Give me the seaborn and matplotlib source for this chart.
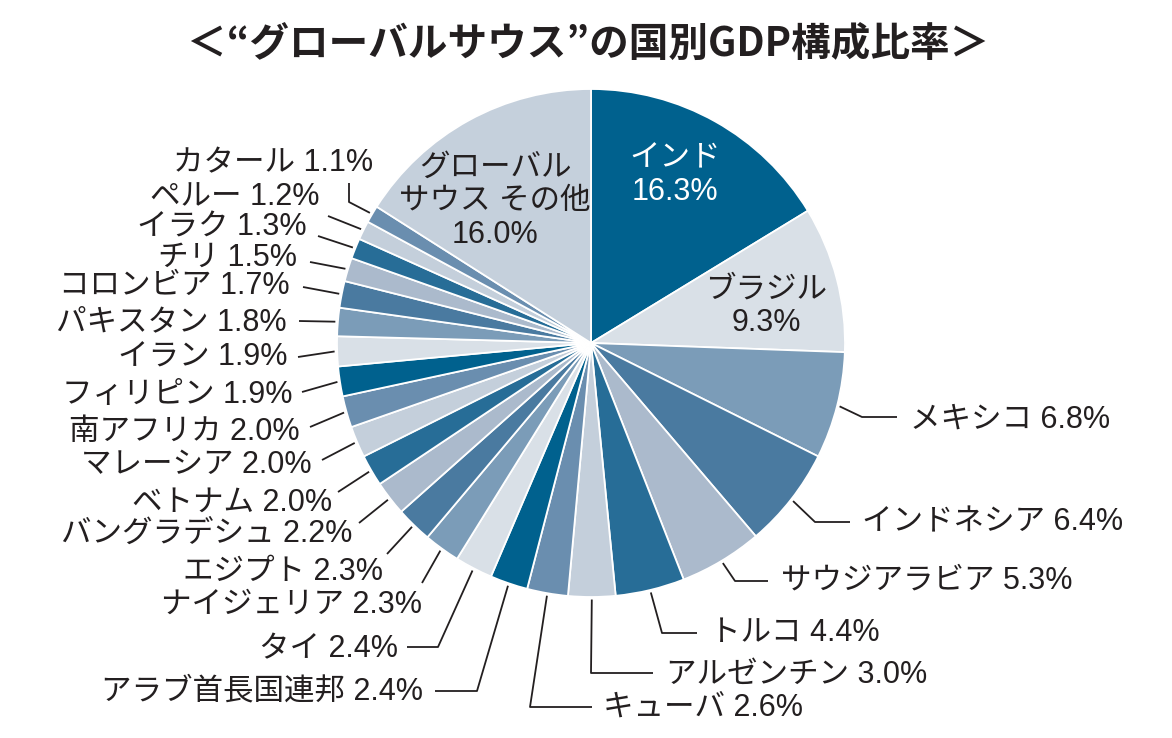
import matplotlib
matplotlib.use("Agg")
import matplotlib.pyplot as plt
import seaborn as sns
import numpy as np

# ---------------- data ----------------
countries = ["インド", "ブラジル", "メキシコ", "インドネシア", "サウジアラビア", "トルコ",
             "アルゼンチン", "キューバ", "アラブ首長国連邦", "タイ", "ナイジェリア", "エジプト",
             "バングラデシュ", "ベトナム", "マレーシア", "南アフリカ", "フィリピン", "イラン",
             "パキスタン", "コロンビア", "チリ", "イラク", "ペルー", "カタール",
             "グローバル\nサウス その他"]
shares = [16.3, 9.3, 6.8, 6.4, 5.3, 4.4, 3.0, 2.6, 2.4, 2.4, 2.3, 2.3, 2.2, 2.0, 2.0, 2.0,
          1.9, 1.9, 1.8, 1.7, 1.5, 1.3, 1.2, 1.1, 16.0]
title = "＜“グローバルサウス”の国別GDP構成比率＞"

# ---------------- style ----------------
sns.set_theme(style="white")
plt.rcParams["font.family"] = ["Liberation Sans", "Noto Sans CJK JP", "DejaVu Sans"]
LABEL_FONT = ["Liberation Sans", "Noto Sans CJK JP", "DejaVu Sans"]
TITLE_FONT = ["Noto Sans CJK JP", "DejaVu Sans"]

cycle = sns.color_palette(["#00618e", "#d9e0e7", "#7b9cb8", "#4a7aa0",
                           "#abbacc", "#276d97", "#c4cfdb", "#6a8eaf"])
other_color = "#c5d0dc"
colors = [cycle[i % len(cycle)] for i in range(len(shares) - 1)] + [other_color]
TXT = "#231f20"

W, H = 1172, 738
fig = plt.figure(figsize=(W / 100, H / 100), dpi=100)
ax = fig.add_axes([0, 0, 1, 1])

def P(x, y):
    return x, H - y

CX, CY = 591, 343
R = 254
wedges, _ = ax.pie(shares, colors=colors, startangle=90, counterclock=False,
                   center=P(CX, CY), radius=R,
                   wedgeprops=dict(edgecolor="white", linewidth=1.3))
ax.set_xlim(0, W)
ax.set_ylim(0, H)
ax.set_aspect("equal")
ax.axis("off")

# inner labels
inner = {0: ((675, 175), "white"), 1: ((766, 306), TXT), 24: ((495, 201), TXT)}
for i, ((x, y), c) in inner.items():
    ax.text(*P(x, y), f"{countries[i]}\n{shares[i]:.1f}%", ha="center", va="center",
            fontsize=22, color=c, linespacing=1.16, family=LABEL_FONT)

# external labels with leader lines (layout positions)
leader_layout = {
    2: ([(862, 417), (897, 417)], (910, 420), "left"),
    3: ([(815, 522), (850, 522)], (862, 522), "left"),
    4: ([(735, 581), (768, 581)], (781, 581), "left"),
    5: ([(662, 633), (697, 633)], (710, 633), "left"),
    6: ([(591, 673), (653, 673)], (666, 675), "left"),
    7: ([(530, 707), (592, 707)], (603, 708), "left"),
    8: ([(477, 691), (435, 691)], (423, 691), "right"),
    9: ([(438, 647), (407, 647)], (398, 649), "right"),
    10: ([(422, 583)], (422, 605), "right"),
    11: ([(387, 554)], (383, 572), "right"),
    12: ([(359, 523)], (352, 534), "right"),
    13: ([(338, 492)], (332, 503), "right"),
    14: ([(322, 460)], (312, 465), "right"),
    15: ([(310, 427)], (300, 432), "right"),
    16: ([(302, 392)], (292, 395), "right"),
    17: ([(298, 357)], (287, 358), "right"),
    18: ([(299, 321)], (287, 322), "right"),
    19: ([(303, 287)], (290, 286), "right"),
    20: ([(310, 262)], (297, 258), "right"),
    21: ([(318, 236)], (307, 228), "right"),
    22: ([(328, 216)], (320, 197), "right"),
    23: ([(349, 202), (349, 183)], (373, 163), "right"),
}
for i, (pts, (tx, ty), ha) in leader_layout.items():
    w = wedges[i]
    mid = np.deg2rad((w.theta1 + w.theta2) / 2)
    sx = w.center[0] + 1.01 * R * np.cos(mid)
    sy = w.center[1] + 1.01 * R * np.sin(mid)
    xs = [sx] + [p[0] for p in pts]
    ys = [sy] + [H - p[1] for p in pts]
    ax.plot(xs, ys, color=TXT, lw=1.3, solid_capstyle="butt")
    ax.text(*P(tx, ty), f"{countries[i]} {shares[i]:.1f}%", ha=ha, va="center",
            fontsize=22, color=TXT, family=LABEL_FONT)

ax.text(*P(588, 45), title, ha="center", va="center", fontsize=28.5,
        fontweight="bold", color=TXT, family=TITLE_FONT)

fig.savefig("out.png", dpi=100, facecolor="white")
